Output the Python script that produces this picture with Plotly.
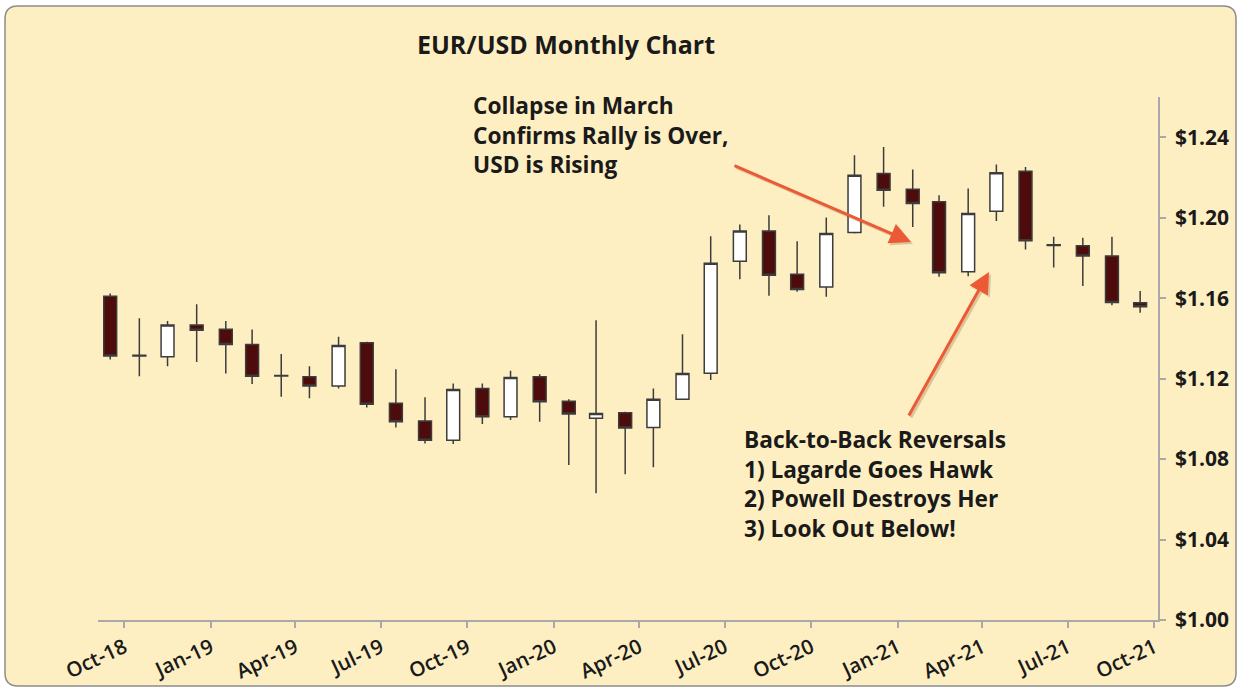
import plotly.graph_objects as go

# ---------------- data ----------------
months = ["2018-10-01", "2018-11-01", "2018-12-01", "2019-01-01", "2019-02-01", "2019-03-01",
          "2019-04-01", "2019-05-01", "2019-06-01", "2019-07-01", "2019-08-01", "2019-09-01",
          "2019-10-01", "2019-11-01", "2019-12-01", "2020-01-01", "2020-02-01", "2020-03-01",
          "2020-04-01", "2020-05-01", "2020-06-01", "2020-07-01", "2020-08-01", "2020-09-01",
          "2020-10-01", "2020-11-01", "2020-12-01", "2021-01-01", "2021-02-01", "2021-03-01",
          "2021-04-01", "2021-05-01", "2021-06-01", "2021-07-01", "2021-08-01", "2021-09-01",
          "2021-10-01"]
open_ = [1.1610, 1.1312, 1.1309, 1.1466, 1.1446, 1.1370, 1.1216, 1.1209, 1.1163, 1.1378,
         1.1077, 1.0989, 1.0894, 1.1151, 1.1010, 1.1209, 1.1088, 1.1003, 1.1030, 1.0957,
         1.1097, 1.1227, 1.1784, 1.1934, 1.1719, 1.1656, 1.1926, 1.2220, 1.2142, 1.2079,
         1.1731, 1.2032, 1.2231, 1.1866, 1.1860, 1.1809, 1.1577]
high = [1.1623, 1.1500, 1.1487, 1.1570, 1.1487, 1.1444, 1.1322, 1.1262, 1.1408, 1.1383,
        1.1246, 1.1107, 1.1176, 1.1176, 1.1239, 1.1222, 1.1098, 1.1490, 1.1035, 1.1151,
        1.1421, 1.1908, 1.1966, 1.2012, 1.1883, 1.2001, 1.2310, 1.2352, 1.2239, 1.2112,
        1.2145, 1.2264, 1.2252, 1.1905, 1.1900, 1.1905, 1.1635]
low = [1.1295, 1.1212, 1.1262, 1.1283, 1.1226, 1.1173, 1.1110, 1.1102, 1.1151, 1.1057,
       1.0957, 1.0878, 1.0875, 1.0974, 1.0994, 1.0985, 1.0770, 1.0630, 1.0724, 1.0759,
       1.1094, 1.1193, 1.1694, 1.1612, 1.1632, 1.1607, 1.1922, 1.2054, 1.1954, 1.1706,
       1.1709, 1.1983, 1.1842, 1.1753, 1.1661, 1.1565, 1.1527]
close = [1.1312, 1.1316, 1.1466, 1.1441, 1.1370, 1.1212, 1.1213, 1.1163, 1.1365, 1.1073,
         1.0985, 1.0894, 1.1146, 1.1010, 1.1206, 1.1085, 1.1024, 1.1027, 1.0955, 1.1097,
         1.1226, 1.1774, 1.1934, 1.1714, 1.1643, 1.1922, 1.2211, 1.2137, 1.2070, 1.1726,
         1.2021, 1.2223, 1.1885, 1.1862, 1.1809, 1.1579, 1.1557]

tick_dates = ["2018-10-16", "2019-01-16", "2019-04-16", "2019-07-16", "2019-10-16",
              "2020-01-16", "2020-04-16", "2020-07-16", "2020-10-16", "2021-01-16",
              "2021-04-16", "2021-07-16", "2021-10-16"]
tick_labels = ["Oct-18", "Jan-19", "Apr-19", "Jul-19", "Oct-19", "Jan-20", "Apr-20",
               "Jul-20", "Oct-20", "Jan-21", "Apr-21", "Jul-21", "Oct-21"]
y_ticks = [1.00, 1.04, 1.08, 1.12, 1.16, 1.20, 1.24]
y_labels = ["$1.00", "$1.04", "$1.08", "$1.12", "$1.16", "$1.20", "$1.24"]

title_text = "EUR/USD Monthly Chart"
note1_lines = ["Collapse in March", "Confirms Rally is Over,", "USD is Rising"]
note2_lines = ["Back-to-Back Reversals", "1) Lagarde Goes Hawk", "2) Powell Destroys Her",
               "3) Look Out Below!"]

# ---------------- layout geometry (pixels) ----------------
W, H = 1241, 688
L, R, T, B = 98, 1158, 97, 620


def px(x):
    return (x - L) / (R - L)


def py(y):
    return (B - y) / (B - T)


DARK = "#4E0B0B"
EDGE = "#3C3C3C"
ARROW = "#EC5A35"
TXT = "#1A1A1A"

fig = go.Figure()
fig.add_trace(go.Candlestick(
    x=months, open=open_, high=high, low=low, close=close,
    increasing=dict(fillcolor="#FFFFFF", line=dict(color=EDGE, width=1.5)),
    decreasing=dict(fillcolor=DARK, line=dict(color=EDGE, width=1.5)),
    whiskerwidth=0, showlegend=False,
))

# rounded background panel
x0, y0, x1, y1, r = 5, 6, 1236, 686, 13
path = (f"M {px(x0 + r)},{py(y0)} L {px(x1 - r)},{py(y0)} "
        f"Q {px(x1)},{py(y0)} {px(x1)},{py(y0 + r)} "
        f"L {px(x1)},{py(y1 - r)} Q {px(x1)},{py(y1)} {px(x1 - r)},{py(y1)} "
        f"L {px(x0 + r)},{py(y1)} Q {px(x0)},{py(y1)} {px(x0)},{py(y1 - r)} "
        f"L {px(x0)},{py(y0 + r)} Q {px(x0)},{py(y0)} {px(x0 + r)},{py(y0)} Z")
fig.add_shape(type="path", path=path, xref="paper", yref="paper",
              fillcolor="#FEEFC3", line=dict(color="#8C8C8C", width=1.5), layer="below")

note_font = dict(family="Open Sans, Lato, sans-serif", size=22.7, color=TXT, weight=700)

# arrow shadows then arrows
arrows = [((911, 242), (733, 165)), ((989, 272), (908, 417))]
for (tx, ty), (sx, sy) in arrows:
    fig.add_annotation(x=px(tx + 2), y=py(ty + 2), xref="paper", yref="paper",
                       ax=(sx + 2) - (tx + 2), ay=(sy + 2) - (ty + 2), axref="pixel", ayref="pixel",
                       showarrow=True, arrowhead=2, arrowsize=1.4, arrowwidth=3,
                       arrowcolor="rgba(120,80,40,0.25)", text="")
for (tx, ty), (sx, sy) in arrows:
    fig.add_annotation(x=px(tx), y=py(ty), xref="paper", yref="paper",
                       ax=sx - tx, ay=sy - ty, axref="pixel", ayref="pixel",
                       showarrow=True, arrowhead=2, arrowsize=1.4, arrowwidth=3,
                       arrowcolor=ARROW, text="")

fig.add_annotation(x=px(472), y=py(89), xref="paper", yref="paper", xanchor="left", yanchor="top",
                   text="<br>".join(note1_lines), showarrow=False, align="left", font=note_font,
                   borderpad=0)
fig.add_annotation(x=px(743), y=py(423), xref="paper", yref="paper", xanchor="left", yanchor="top",
                   text="<br>".join(note2_lines), showarrow=False, align="left", font=note_font,
                   borderpad=0)

fig.update_layout(
    width=W, height=H,
    margin=dict(l=L, r=W - R, t=T, b=H - B, autoexpand=False),
    paper_bgcolor="#FFFFFF", plot_bgcolor="rgba(0,0,0,0)",
    title=dict(text=title_text, x=566 / W, xanchor="center", y=1 - 45 / H, yanchor="middle",
               font=dict(family="Open Sans, sans-serif", size=25, color=TXT, weight="bold")),
    xaxis=dict(type="date", range=["2018-09-18", "2021-10-20"], rangeslider=dict(visible=False),
               tickvals=tick_dates, ticktext=tick_labels, tickangle=-25, automargin=False,
               ticks="outside", ticklen=6, tickcolor="#A9A9A9", tickwidth=1.5,
               showline=True, linecolor="#A9A9A9", linewidth=1.5, showgrid=False, zeroline=False,
               ticklabelstandoff=0,
               tickfont=dict(family="Open Sans, sans-serif", size=20.5, color=TXT, weight=600)),
    yaxis=dict(side="right", range=[1.0, 1.26], tickvals=y_ticks, ticktext=y_labels,
               automargin=False,
               ticks="outside", ticklen=6, tickcolor="#A9A9A9", tickwidth=1.5,
               showline=True, linecolor="#A9A9A9", linewidth=1.5, showgrid=False, zeroline=False,
               ticklabelstandoff=5,
               tickfont=dict(family="Open Sans, sans-serif", size=21, color=TXT, weight=700)),
    hovermode=False,
)

fig.write_html("out.html")
